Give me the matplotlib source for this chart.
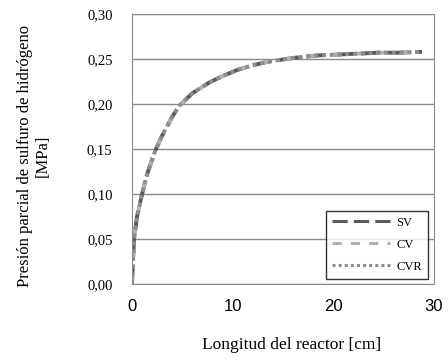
import numpy as np
import matplotlib
matplotlib.use("Agg")
import matplotlib.pyplot as plt

# reactor length [cm] and H2S partial pressure [MPa]
longitud = [0, 0.1, 0.2, 0.5, 1.0, 1.5, 2.3, 3.0, 4.0, 4.7, 6.0, 7.7, 9.0, 10.5,
            12.0, 13.5, 15.3, 16.6, 18.5, 20.6, 22.5, 24.5, 26.5, 28.8]
p_sv = [0, 0.025, 0.05, 0.075, 0.100, 0.122, 0.148, 0.165, 0.186, 0.198, 0.212,
        0.224, 0.231, 0.238, 0.243, 0.247, 0.250, 0.252, 0.254, 0.255, 0.256,
        0.257, 0.257, 0.258]
p_cv = p_sv
p_cvr = p_sv
series = ["SV", "CV", "CVR"]

serif = ["Liberation Serif", "DejaVu Serif"]

fig = plt.figure(figsize=(4.48, 3.6), dpi=100)
ax = fig.add_axes([132 / 448, 1 - 284 / 360, 302 / 448, 270 / 360])

ax.plot(longitud, p_sv, color="#5a5a5a", lw=2.8, ls=(0, (5, 2)), label=series[0])
ax.plot(longitud, p_cv, color="#b0b0b0", lw=2.8, ls=(0, (3, 3)), label=series[1])
ax.plot(longitud, p_cvr, color="#8c8c8c", lw=2.8, ls=(0, (1, 1)), label=series[2])

ax.set_xlim(0, 30)
ax.set_ylim(0, 0.30)
ax.set_xticks([0, 10, 20, 30])
ax.set_yticks(np.arange(0, 0.31, 0.05))
ax.set_yticklabels([f"{v:.2f}".replace(".", ",") for v in np.arange(0, 0.31, 0.05)],
                   family=serif, fontsize=10.5)
ax.set_xticklabels(["0", "10", "20", "30"], family="Liberation Sans", fontsize=12)
ax.tick_params(length=0)
ax.tick_params(axis="y", pad=14)
ax.tick_params(axis="x", pad=11)
ax.yaxis.grid(True, color="#8a8a8a", lw=1)
ax.set_axisbelow(True)
for s in ax.spines.values():
    s.set_color("#8a8a8a")

fig.text(34 / 448, 1 - 156 / 360, "Presión parcial de sulfuro de hidrógeno\n[MPa]",
         family=serif, fontsize=12, rotation=90, ha="center", va="center",
         linespacing=1.2)
fig.text(292 / 448, 1 - 345 / 360, "Longitud del reactor [cm]", family=serif,
         fontsize=12.5, ha="center", va="center")

leg = ax.legend(loc="lower right", bbox_to_anchor=(428 / 448, 1 - 279 / 360),
                bbox_transform=fig.transFigure, borderaxespad=0,
                prop={"family": serif, "size": 9},
                frameon=True, fancybox=False, handlelength=4.6,
                labelspacing=0.8, handletextpad=0.5, borderpad=0.5)
leg.get_frame().set_edgecolor("black")
leg.get_frame().set_linewidth(1)
for h in leg.get_lines():
    h.set_linewidth(2.2)

fig.savefig("out.png", dpi=100)
